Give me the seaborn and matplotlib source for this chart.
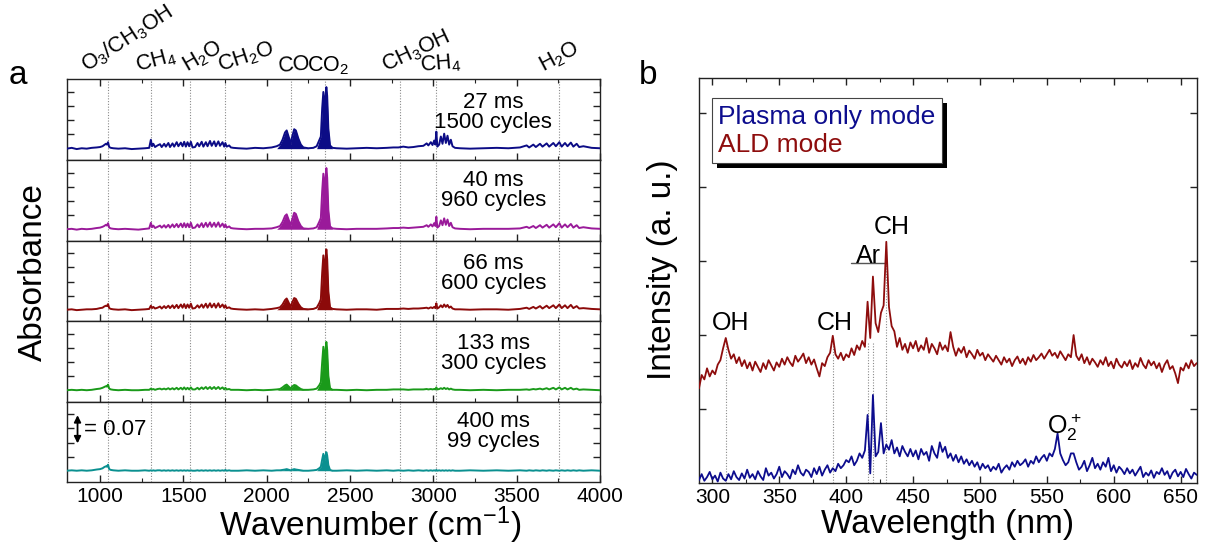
import numpy as np
import pandas as pd
import matplotlib
matplotlib.use("Agg")
import matplotlib.pyplot as plt
import seaborn as sns
from matplotlib.ticker import MultipleLocator, FixedLocator
from matplotlib.transforms import blended_transform_factory, IdentityTransform
from matplotlib.patches import Rectangle

# ---------------- data: panel a (FTIR absorbance) ----------------
wavenumber = [
    800, 830, 860, 890, 920, 950, 980, 1000,
    1015, 1025, 1035, 1042, 1048, 1055, 1065, 1080,
    1110, 1150, 1190, 1230, 1270, 1295,
    1305, 1312, 1320, 1330, 1345, 1360, 1370, 1385, 1395, 1410, 1420, 1435, 1445, 1460, 1470, 1485, 1495, 1505, 1515, 1525, 1535, 1545, 1555,
    1570, 1585, 1595, 1610, 1620, 1635, 1645, 1660, 1670, 1685, 1695, 1710, 1720, 1735, 1745, 1752, 1760, 1775, 1785, 1800,
    1830, 1880, 1930, 1980, 2030, 2060,
    2080, 2095, 2110, 2120, 2135, 2143, 2150, 2165, 2175, 2190, 2205, 2220,
    2250, 2280, 2300,
    2315, 2325, 2333, 2340, 2347, 2352, 2358, 2363, 2370, 2380, 2395,
    2420, 2480, 2540, 2600, 2660, 2720, 2760,
    2790, 2820, 2850, 2880, 2910, 2940, 2960, 2970, 2985, 2995, 3005, 3012, 3018, 3024,
    3035, 3045, 3055, 3065, 3075, 3085, 3095, 3105, 3115, 3130,
    3160, 3220, 3300, 3380, 3450, 3520,
    3560, 3575, 3600, 3615, 3640, 3655, 3680, 3695, 3720, 3735, 3756, 3770, 3790, 3805, 3825, 3840, 3860, 3875, 3900, 3950, 4000,
]

abs_27ms = [
    0.000, 0.002, -0.001, 0.001, 0.000, 0.002, 0.003, 0.004,
    0.006, 0.009, 0.012, 0.010, 0.016, 0.004, 0.002, 0.001,
    0.000, 0.001, -0.001, 0.000, 0.001, 0.002,
    0.022, 0.006, 0.012, 0.004, 0.008, 0.011, 0.004, 0.012, 0.005, 0.014, 0.004, 0.013, 0.005, 0.016, 0.006, 0.015, 0.006, 0.017, 0.005, 0.016, 0.006, 0.017, 0.003,
    0.004, 0.014, 0.006, 0.017, 0.005, 0.016, 0.006, 0.019, 0.007, 0.018, 0.006, 0.018, 0.007, 0.016, 0.005, 0.014, 0.005, 0.008, 0.003, 0.002,
    0.001, 0.000, 0.002, 0.001, 0.003, 0.006,
    0.010, 0.022, 0.040, 0.045, 0.025, 0.010, 0.025, 0.048, 0.045, 0.025, 0.010, 0.003,
    0.001, 0.002, 0.006,
    0.020, 0.030, 0.100, 0.140, 0.090, 0.125, 0.152, 0.130, 0.050, 0.008, 0.002,
    0.001, 0.000, 0.001, 0.002, 0.001, 0.002, 0.003,
    0.003, 0.005, 0.003, 0.004, 0.006, 0.007, 0.013, 0.008, 0.016, 0.009, 0.020, 0.010, 0.042, 0.005,
    0.010, 0.030, 0.012, 0.037, 0.014, 0.032, 0.010, 0.022, 0.006, 0.002,
    0.001, 0.000, 0.001, 0.002, 0.001, 0.003,
    0.008, 0.003, 0.010, 0.004, 0.012, 0.005, 0.013, 0.005, 0.014, 0.006, 0.016, 0.005, 0.014, 0.006, 0.015, 0.005, 0.012, 0.004, 0.006, 0.002, 0.001,
]

abs_40ms = [
    0.000, 0.001, -0.001, 0.001, 0.000, 0.001, 0.003, 0.004,
    0.006, 0.008, 0.011, 0.009, 0.015, 0.004, 0.002, 0.001,
    0.000, 0.001, 0.000, -0.001, 0.001, 0.002,
    0.016, 0.005, 0.009, 0.003, 0.006, 0.009, 0.004, 0.010, 0.004, 0.011, 0.004, 0.012, 0.005, 0.013, 0.005, 0.014, 0.005, 0.015, 0.005, 0.014, 0.005, 0.016, 0.003,
    0.004, 0.012, 0.005, 0.015, 0.005, 0.016, 0.006, 0.017, 0.006, 0.016, 0.006, 0.017, 0.006, 0.014, 0.005, 0.012, 0.004, 0.007, 0.003, 0.002,
    0.001, 0.000, 0.001, 0.001, 0.002, 0.005,
    0.008, 0.018, 0.033, 0.037, 0.020, 0.008, 0.020, 0.041, 0.038, 0.020, 0.008, 0.002,
    0.001, 0.002, 0.005,
    0.018, 0.028, 0.095, 0.138, 0.088, 0.122, 0.152, 0.128, 0.048, 0.007, 0.002,
    0.001, 0.000, 0.001, 0.001, 0.001, 0.002, 0.003,
    0.003, 0.004, 0.003, 0.004, 0.005, 0.006, 0.010, 0.006, 0.012, 0.007, 0.015, 0.008, 0.031, 0.004,
    0.008, 0.022, 0.010, 0.027, 0.011, 0.024, 0.008, 0.016, 0.005, 0.002,
    0.001, 0.000, 0.001, 0.001, 0.001, 0.002,
    0.006, 0.003, 0.008, 0.003, 0.010, 0.004, 0.011, 0.004, 0.012, 0.005, 0.015, 0.004, 0.012, 0.005, 0.013, 0.004, 0.010, 0.003, 0.005, 0.002, 0.001,
]

abs_66ms = [
    0.000, 0.001, -0.001, 0.000, 0.001, 0.001, 0.002, 0.004,
    0.005, 0.008, 0.010, 0.009, 0.014, 0.004, 0.002, 0.001,
    0.000, 0.001, -0.001, 0.000, 0.001, 0.002,
    0.010, 0.004, 0.007, 0.003, 0.005, 0.008, 0.003, 0.009, 0.004, 0.010, 0.004, 0.011, 0.004, 0.012, 0.004, 0.013, 0.005, 0.014, 0.004, 0.013, 0.005, 0.015, 0.003,
    0.004, 0.011, 0.005, 0.013, 0.005, 0.015, 0.005, 0.016, 0.006, 0.015, 0.005, 0.016, 0.006, 0.013, 0.005, 0.011, 0.004, 0.006, 0.003, 0.002,
    0.001, 0.000, 0.001, 0.000, 0.002, 0.004,
    0.006, 0.013, 0.024, 0.028, 0.015, 0.006, 0.015, 0.029, 0.027, 0.015, 0.006, 0.002,
    0.001, 0.002, 0.005,
    0.016, 0.026, 0.092, 0.135, 0.085, 0.120, 0.150, 0.125, 0.046, 0.006, 0.002,
    0.001, 0.000, 0.001, 0.001, 0.000, 0.002, 0.002,
    0.002, 0.003, 0.002, 0.003, 0.003, 0.004, 0.005, 0.003, 0.006, 0.004, 0.007, 0.004, 0.016, 0.003,
    0.006, 0.011, 0.006, 0.013, 0.007, 0.012, 0.005, 0.008, 0.003, 0.001,
    0.001, 0.000, 0.001, 0.001, 0.000, 0.002,
    0.005, 0.002, 0.007, 0.003, 0.009, 0.003, 0.010, 0.004, 0.011, 0.004, 0.013, 0.004, 0.011, 0.004, 0.012, 0.004, 0.009, 0.003, 0.004, 0.002, 0.001,
]

abs_133ms = [
    0.000, 0.001, 0.000, 0.001, 0.000, 0.001, 0.003, 0.004,
    0.006, 0.008, 0.010, 0.009, 0.014, 0.004, 0.002, 0.001,
    0.000, 0.001, 0.000, 0.000, 0.001, 0.001,
    0.004, 0.002, 0.003, 0.001, 0.003, 0.004, 0.002, 0.004, 0.002, 0.005, 0.002, 0.005, 0.002, 0.006, 0.002, 0.006, 0.002, 0.007, 0.002, 0.006, 0.002, 0.007, 0.002,
    0.002, 0.006, 0.002, 0.007, 0.003, 0.008, 0.003, 0.008, 0.003, 0.008, 0.003, 0.008, 0.003, 0.007, 0.002, 0.006, 0.002, 0.003, 0.001, 0.001,
    0.001, 0.000, 0.001, 0.000, 0.001, 0.002,
    0.003, 0.007, 0.012, 0.014, 0.008, 0.003, 0.008, 0.013, 0.012, 0.007, 0.003, 0.001,
    0.001, 0.002, 0.004,
    0.012, 0.020, 0.070, 0.108, 0.068, 0.095, 0.120, 0.100, 0.036, 0.005, 0.001,
    0.001, 0.000, 0.001, 0.000, 0.001, 0.001, 0.002,
    0.002, 0.002, 0.001, 0.002, 0.002, 0.002, 0.003, 0.002, 0.003, 0.002, 0.003, 0.002, 0.007, 0.002,
    0.003, 0.005, 0.003, 0.006, 0.003, 0.005, 0.002, 0.004, 0.002, 0.001,
    0.001, 0.000, 0.001, 0.000, 0.001, 0.001,
    0.002, 0.001, 0.003, 0.002, 0.004, 0.002, 0.005, 0.002, 0.006, 0.002, 0.007, 0.002, 0.006, 0.002, 0.006, 0.002, 0.004, 0.001, 0.002, 0.001, 0.000,
]

abs_400ms = [
    0.000, 0.001, 0.000, 0.001, 0.000, 0.001, 0.003, 0.004,
    0.006, 0.009, 0.011, 0.010, 0.015, 0.004, 0.002, 0.001,
    0.000, 0.001, 0.000, 0.000, 0.001, 0.000,
    0.001, 0.000, 0.001, 0.000, 0.001, 0.001, 0.000, 0.001, 0.000, 0.001, 0.000, 0.001, 0.000, 0.001, 0.000, 0.001, 0.000, 0.001, 0.000, 0.001, 0.000, 0.001, 0.000,
    0.000, 0.001, 0.000, 0.001, 0.000, 0.001, 0.000, 0.001, 0.000, 0.001, 0.000, 0.001, 0.000, 0.001, 0.000, 0.002, 0.000, 0.001, 0.000, 0.000,
    0.000, 0.001, 0.000, 0.001, 0.000, 0.001,
    0.001, 0.002, 0.003, 0.004, 0.002, 0.001, 0.002, 0.004, 0.003, 0.002, 0.001, 0.000,
    0.000, 0.001, 0.002,
    0.006, 0.010, 0.028, 0.042, 0.026, 0.035, 0.046, 0.038, 0.014, 0.002, 0.000,
    0.000, 0.001, 0.000, 0.001, 0.000, 0.001, 0.000,
    0.001, 0.000, 0.001, 0.000, 0.001, 0.000, 0.001, 0.000, 0.001, 0.000, 0.001, 0.000, 0.002, 0.000,
    0.001, 0.000, 0.001, 0.000, 0.001, 0.000, 0.001, 0.000, 0.001, 0.000,
    0.000, 0.001, 0.000, 0.001, 0.000, 0.001,
    0.000, 0.001, 0.000, 0.001, 0.000, 0.001, 0.000, 0.001, 0.000, 0.001, 0.000, 0.001, 0.000, 0.001, 0.000, 0.001, 0.000, 0.001, 0.000, 0.001, 0.000,
]

conditions = ["27 ms\n1500 cycles", "40 ms\n960 cycles", "66 ms\n600 cycles",
              "133 ms\n300 cycles", "400 ms\n99 cycles"]
spectra = [abs_27ms, abs_40ms, abs_66ms, abs_133ms, abs_400ms]
panel_colors = ["#0c0c86", "#9a1a9a", "#8c0a0a", "#1a9a1a", "#0a9090"]

band_positions = [1045, 1305, 1540, 1750, 2143, 2349, 2800, 3017, 3756]
band_labels = ["O$_3$/CH$_3$OH", "CH$_4$", "H$_2$O", "CH$_2$O", "CO", "CO$_2$",
               "CH$_3$OH", "CH$_4$", "H$_2$O"]

# ---------------- data: panel b (OES) ----------------
wavelength = [
    290, 292, 294, 296, 298, 300, 302, 304, 306, 308,
    310, 312, 314, 316, 318, 320, 322, 324, 326, 328,
    330, 332, 334, 336, 338, 340, 342, 344, 346, 348,
    350, 352, 354, 356, 358, 360, 362, 364, 366, 368,
    370, 372, 374, 376, 378, 380, 382, 384, 386, 388,
    390, 392, 394, 396, 398, 400, 402, 404, 406, 408,
    410, 412, 414, 416, 418, 420, 422, 424, 426, 428,
    430, 432, 434, 436, 438, 440, 442, 444, 446, 448,
    450, 452, 454, 456, 458, 460, 462, 464, 466, 468,
    470, 472, 474, 476, 478, 480, 482, 484, 486, 488,
    490, 492, 494, 496, 498, 500, 502, 504, 506, 508,
    510, 512, 514, 516, 518, 520, 522, 524, 526, 528,
    530, 532, 534, 536, 538, 540, 542, 544, 546, 548,
    550, 552, 554, 556, 558, 560, 562, 564, 566, 568,
    570, 572, 574, 576, 578, 580, 582, 584, 586, 588,
    590, 592, 594, 596, 598, 600, 602, 604, 606, 608,
    610, 612, 614, 616, 618, 620, 622, 624, 626, 628,
    630, 632, 634, 636, 638, 640, 642, 644, 646, 648,
    650, 652, 654, 656, 658, 660, 662,
]
intensity_ald = [
    1.28, 1.46, 1.40, 1.55, 1.44, 1.52, 1.47, 1.60, 1.66, 1.82,
    1.96, 1.80, 1.68, 1.74, 1.62, 1.70, 1.58, 1.66, 1.55, 1.63,
    1.52, 1.64, 1.57, 1.50, 1.62, 1.54, 1.66, 1.59, 1.52, 1.63,
    1.57, 1.68, 1.60, 1.70, 1.63, 1.58, 1.72, 1.64, 1.69, 1.75,
    1.62, 1.70, 1.60, 1.67, 1.55, 1.44, 1.62, 1.58, 1.70, 1.76,
    1.99, 1.74, 1.68, 1.76, 1.66, 1.74, 1.70, 1.82, 1.73, 1.86,
    1.80, 1.92, 1.84, 2.45, 1.96, 2.79, 2.16, 2.04, 2.30, 2.40,
    3.26, 2.38, 2.12, 2.05, 1.84, 1.96, 1.80, 1.88, 1.76, 1.90,
    1.82, 1.92, 1.78, 1.86, 1.80, 1.96, 1.76, 1.88, 1.82, 1.74,
    1.90, 1.80, 1.86, 1.78, 2.04, 1.84, 1.72, 1.82, 1.76, 1.84,
    1.70, 1.79, 1.74, 1.68, 1.80, 1.72, 1.76, 1.66, 1.74, 1.69,
    1.64, 1.72, 1.66, 1.60, 1.70, 1.63, 1.68, 1.58, 1.66, 1.71,
    1.62, 1.68, 1.60, 1.70, 1.64, 1.73, 1.66, 1.70, 1.75, 1.68,
    1.74, 1.80, 1.72, 1.76, 1.69, 1.78, 1.72, 1.66, 1.74, 1.70,
    2.00, 1.72, 1.66, 1.74, 1.62, 1.70, 1.60, 1.68, 1.63, 1.57,
    1.66, 1.60, 1.70, 1.58, 1.64, 1.55, 1.68, 1.60, 1.56, 1.64,
    1.58, 1.66, 1.54, 1.62, 1.57, 1.69, 1.60, 1.55, 1.66, 1.59,
    1.64, 1.55, 1.62, 1.50, 1.60, 1.66, 1.54, 1.58, 1.48, 1.35,
    1.56, 1.52, 1.62, 1.55, 1.66, 1.58, 1.62,
]
intensity_plasma = [
    0.04, 0.12, 0.03, 0.08, 0.15, 0.05, 0.10, 0.02, 0.14, 0.06,
    0.03, 0.12, 0.05, 0.16, 0.08, 0.04, 0.13, 0.06, 0.18, 0.07,
    0.12, 0.05, 0.16, 0.09, 0.04, 0.20, 0.10, 0.14, 0.06, 0.12,
    0.22, 0.08, 0.16, 0.12, 0.06, 0.18, 0.12, 0.24, 0.14, 0.10,
    0.18, 0.15, 0.08, 0.20, 0.12, 0.22, 0.10, 0.18, 0.24, 0.14,
    0.20, 0.16, 0.26, 0.20, 0.24, 0.31, 0.28, 0.36, 0.24, 0.30,
    0.40, 0.34, 0.44, 0.92, 0.13, 1.19, 0.36, 0.42, 0.81, 0.40,
    0.52, 0.45, 0.58, 0.40, 0.48, 0.36, 0.50, 0.42, 0.36, 0.46,
    0.36, 0.44, 0.32, 0.46, 0.38, 0.42, 0.30, 0.50, 0.40, 0.34,
    0.55, 0.42, 0.49, 0.34, 0.40, 0.30, 0.38, 0.28, 0.36, 0.26,
    0.32, 0.24, 0.30, 0.22, 0.28, 0.18, 0.26, 0.20, 0.24, 0.16,
    0.22, 0.18, 0.26, 0.14, 0.20, 0.24, 0.18, 0.28, 0.22, 0.30,
    0.24, 0.27, 0.32, 0.22, 0.30, 0.26, 0.36, 0.28, 0.34, 0.38,
    0.30, 0.40, 0.36, 0.46, 0.67, 0.40, 0.31, 0.24, 0.28, 0.40,
    0.40, 0.28, 0.18, 0.22, 0.30, 0.16, 0.24, 0.34, 0.20, 0.26,
    0.18, 0.28, 0.22, 0.34, 0.16, 0.24, 0.14, 0.22, 0.18, 0.12,
    0.20, 0.13, 0.18, 0.10, 0.16, 0.22, 0.08, 0.14, 0.10, 0.17,
    0.07, 0.15, 0.12, 0.20, 0.11, 0.16, 0.06, 0.14, 0.18, 0.09,
    0.15, 0.08, 0.19, 0.12, 0.06, 0.14, 0.11,
]
oes_lines = [310, 390, 416, 420, 430]
oes_line_tops = [1.96, 1.99, 1.9, 1.9, 3.2]

# ---------------- style ----------------
sns.set_theme(style="ticks")
plt.rcParams["font.family"] = ["Liberation Sans", "DejaVu Sans"]
plt.rcParams["mathtext.default"] = "regular"
plt.rcParams["axes.linewidth"] = 1.0
plt.rcParams["axes.edgecolor"] = "#222222"
plt.rcParams["text.color"] = "black"
plt.rcParams["axes.labelcolor"] = "black"
plt.rcParams["xtick.color"] = "black"
plt.rcParams["ytick.color"] = "black"

W, H = 1207, 555
fig = plt.figure(figsize=(W / 100, H / 100), dpi=100)


def fx(px):
    return px / W


def fy(py):
    return 1 - py / H


TICK_FS = 15
# ---------------- panel a ----------------
bounds = [79, 160, 240.5, 321, 401.5, 482]
L_PX, R_PX = 66.7, 600
text_y = [0.59, 0.625, 0.59, 0.60, 0.63]
wn = np.array(wavenumber)
axes_a = []
for i in range(5):
    top, bot = bounds[i], bounds[i + 1]
    ax = fig.add_axes([fx(L_PX), fy(bot), (R_PX - L_PX) / W, (bot - top) / H])
    axes_a.append(ax)
    c = panel_colors[i]
    df = pd.DataFrame({"wavenumber": wavenumber, "absorbance": spectra[i]})
    for b in band_positions:
        ax.axvline(b, color="#8a8a8a", ls=(0, (1, 1.5)), lw=0.8, zorder=0)
    sns.lineplot(data=df, x="wavenumber", y="absorbance", ax=ax, color=c,
                 lw=1.4, estimator=None, sort=False, zorder=3)
    a = np.array(spectra[i])
    for lo, hi in [(2075, 2225), (2305, 2392)]:
        ax.fill_between(wn, 0, a, where=(wn >= lo) & (wn <= hi), color=c,
                        lw=0, interpolate=True, zorder=2)
    ax.set_xlim(800, 4000)
    ax.set_ylim(-0.028, 0.172)
    ax.xaxis.set_major_locator(MultipleLocator(500))
    ax.xaxis.set_minor_locator(MultipleLocator(250))
    ax.yaxis.set_major_locator(FixedLocator([0.035, 0.07, 0.105, 0.14]))
    ax.tick_params(which="both", direction="in", left=True, right=True,
                   top=(i == 0), bottom=True, labelleft=False,
                   labelbottom=(i == 4), labelsize=TICK_FS, color="#222222")
    ax.tick_params(which="major", length=5, width=1.0)
    ax.tick_params(which="minor", length=3, width=0.8)
    ax.set_xlabel("")
    ax.set_ylabel("")
    ax.text(3360, text_y[i], conditions[i], ha="center", va="center",
            fontsize=16, linespacing=0.95,
            transform=blended_transform_factory(ax.transData, ax.transAxes))

# scale bar in bottom panel
axb = axes_a[4]
axb.annotate("", xy=(865, 0.138), xytext=(865, 0.068),
             arrowprops=dict(arrowstyle="<|-|>", color="black", lw=1.3,
                             mutation_scale=10, shrinkA=0, shrinkB=0))
axb.text(905, 0.103, "= 0.07", ha="left", va="center", fontsize=16)

# band labels on top
ax0 = axes_a[0]
label_x = [942, 1233, 1538, 1731, 2075, 2242, 2726, 2926, 3674]
label_rot = [33, 15, 30, 18, 5, 0, 25, 5, 28]
tr = blended_transform_factory(ax0.transData, ax0.transAxes)
for lx, lab, rot in zip(label_x, band_labels, label_rot):
    ax0.text(lx, 1.03, lab, ha="left", va="bottom", rotation=rot,
             rotation_mode="anchor", fontsize=15.5, transform=tr)

fig.text(fx(18), fy(75), "a", fontsize=24, ha="center", va="center")
fig.text(fx(33), fy(272), "Absorbance", rotation=90, fontsize=24,
         ha="center", va="center")
fig.text(fx(370), fy(525), "Wavenumber (cm$^{-1}$)", fontsize=24,
         ha="center", va="center")

# ---------------- panel b ----------------
axr = fig.add_axes([fx(699), fy(483), 497.7 / W, (483 - 78.3) / H])
oes = pd.DataFrame({"wavelength": wavelength, "Plasma only mode": intensity_plasma,
                    "ALD mode": intensity_ald})
axr.vlines(oes_lines, 0, oes_line_tops, colors="#8a8a8a",
           linestyles=(0, (1, 1.5)), lw=0.8, zorder=1)
sns.lineplot(data=oes, x="wavelength", y="Plasma only mode", ax=axr,
             color="#0d0d8e", lw=1.3, estimator=None, sort=False,
             label="Plasma only mode", zorder=3)
sns.lineplot(data=oes, x="wavelength", y="ALD mode", ax=axr,
             color="#8e0d0d", lw=1.3, estimator=None, sort=False,
             label="ALD mode", zorder=3)
axr.set_xlim(290, 662)
axr.set_ylim(0, 5.47)
axr.xaxis.set_major_locator(MultipleLocator(50))
axr.xaxis.set_minor_locator(MultipleLocator(25))
axr.yaxis.set_major_locator(FixedLocator([1, 2, 3, 4, 5]))
axr.tick_params(which="both", direction="in", left=True, right=True, top=True,
                bottom=True, labelleft=False, labelsize=TICK_FS, color="#222222")
axr.tick_params(which="major", length=5, width=1.0)
axr.tick_params(which="minor", length=3, width=0.8)
axr.set_xlabel("")
axr.set_ylabel("")

axr.text(314, 2.16, "OH", ha="center", va="center", fontsize=18)
axr.text(391.5, 2.16, "CH", ha="center", va="center", fontsize=18)
axr.text(434, 3.46, "CH", ha="center", va="center", fontsize=18)
axr.text(417, 3.07, "Ar", ha="center", va="center", fontsize=18)
axr.plot([403.5, 429], [2.97, 2.97], color="#555555", lw=1.0)
axr.text(550, 0.75, "O$_2^+$", ha="left", va="center", fontsize=18)

leg = axr.legend(loc="upper left", bbox_to_anchor=(0.0255, 0.9506),
                 borderaxespad=0, handlelength=0, handletextpad=0,
                 labelcolor="linecolor", fontsize=19, frameon=True,
                 fancybox=False, framealpha=1, edgecolor="#444444",
                 borderpad=0.25, labelspacing=0.15)
leg.get_frame().set_linewidth(0.8)
leg.set_zorder(6)
for h in leg.legend_handles:
    h.set_visible(False)

fig.text(fx(648), fy(75), "b", fontsize=24, ha="center", va="center")
fig.text(fx(662), fy(270), "Intensity (a. u.)", rotation=90, fontsize=24,
         ha="center", va="center")
fig.text(fx(948), fy(525), "Wavelength (nm)", fontsize=24,
         ha="center", va="center")

# legend drop shadow
fig.canvas.draw()
bb = leg.get_window_extent()
axr.add_patch(Rectangle((bb.x0 + 5, bb.y0 - 5), bb.width, bb.height,
                        transform=IdentityTransform(), facecolor="black",
                        edgecolor="none", zorder=5.5, clip_on=False))

fig.savefig("out.png", dpi=100)
